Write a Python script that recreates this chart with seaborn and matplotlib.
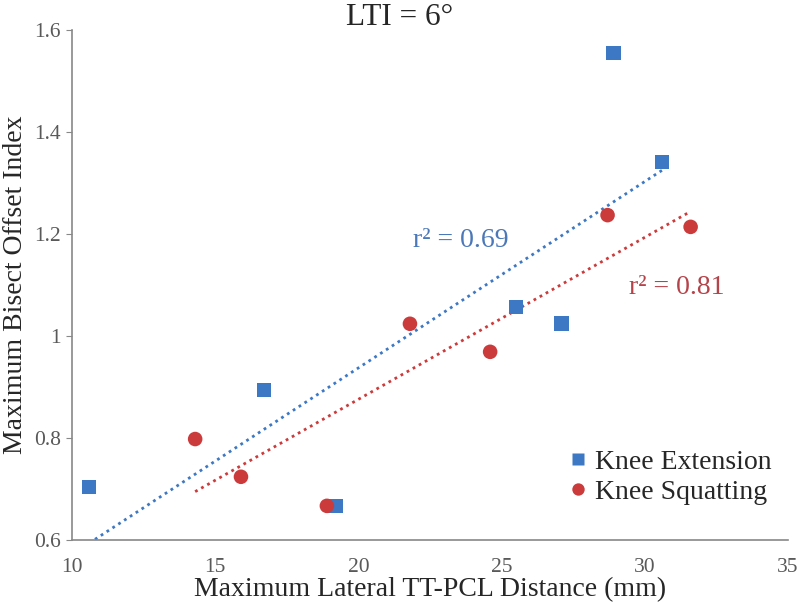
import pandas as pd
import seaborn as sns
import matplotlib.pyplot as plt
from matplotlib.ticker import FuncFormatter

# valori
ext_x = [10.6, 16.7, 19.2, 25.5, 27.1, 28.9, 30.6]
ext_y = [0.704, 0.894, 0.667, 1.057, 1.024, 1.555, 1.341]
squat_x = [14.3, 15.9, 18.9, 21.8, 24.6, 28.7, 31.6]
squat_y = [0.798, 0.724, 0.667, 1.024, 0.969, 1.237, 1.214]
groups = ["Knee Extension", "Knee Squatting"]
r2_labels = ["r² = 0.69", "r² = 0.81"]

blue = "#3d78c4"
red = "#cc3b3b"

df = pd.DataFrame({
    "x": ext_x + squat_x,
    "y": ext_y + squat_y,
    "grup": [groups[0]] * len(ext_x) + [groups[1]] * len(squat_x),
})

sns.set_style("white")
plt.rcParams["font.family"] = ["Liberation Serif", "DejaVu Serif"]

fig = plt.figure(figsize=(8, 6.12), dpi=100)
ax = fig.add_axes([0.09, 0.1176, 0.895, 0.8334])

# linii de trend
sns.regplot(x=ext_x, y=ext_y, scatter=False, ci=None, ax=ax,
            line_kws={"color": blue, "linestyle": (0, (1, 1.5)), "linewidth": 2})
sns.regplot(x=squat_x, y=squat_y, scatter=False, ci=None, ax=ax,
            line_kws={"color": red, "linestyle": (0, (1, 1.5)), "linewidth": 2})

sns.scatterplot(data=df, x="x", y="y", hue="grup", style="grup",
                palette=[blue, red], markers=["s", "o"], s=110,
                edgecolor="none", ax=ax, zorder=3)

ax.set_xlim(10, 35)
ax.set_ylim(0.6, 1.6)
ax.set_xticks([10, 15, 20, 25, 30, 35])
ax.set_yticks([0.6, 0.8, 1.0, 1.2, 1.4, 1.6])
ax.yaxis.set_major_formatter(FuncFormatter(lambda v, p: f"{v:g}"))
ax.tick_params(axis="both", labelsize=15.5, labelcolor="#595959")
ax.tick_params(axis="y", length=4, color="#888888", left=True, pad=4)
ax.tick_params(axis="x", length=0, pad=13)

for s in ["top", "right"]:
    ax.spines[s].set_visible(False)
for s in ["left", "bottom"]:
    ax.spines[s].set_color("#888888")
    ax.spines[s].set_linewidth(1.2)

ax.set_xlabel("Maximum Lateral TT-PCL Distance (mm)", fontsize=20, labelpad=0)
ax.set_ylabel("Maximum Bisect Offset Index", fontsize=20, labelpad=4)
fig.text(0.5, 0.972, "LTI = 6°", ha="center", va="center", fontsize=22.5)

ax.text(23.58, 1.188, r2_labels[0], color="#4a78b8", fontsize=20, ha="center", va="center")
ax.text(31.12, 1.096, r2_labels[1], color="#b5434a", fontsize=20, ha="center", va="center")

leg = ax.legend(loc="lower right", bbox_to_anchor=(1.012, 0.02), frameon=False,
                fontsize=20, handletextpad=0.0, handlelength=1.2,
                labelspacing=0.15, markerscale=0.85)

plt.savefig("out.png", dpi=100)
